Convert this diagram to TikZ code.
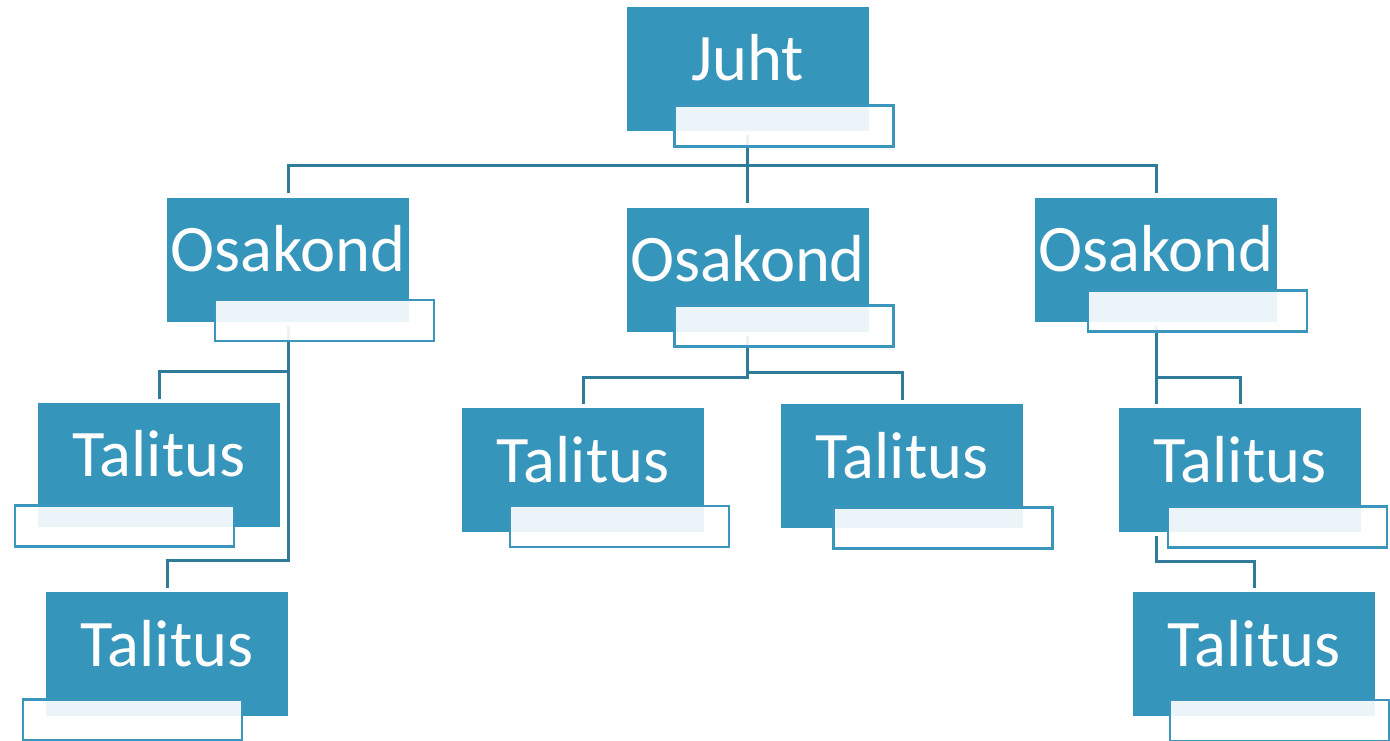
\documentclass[tikz,border=0pt]{standalone}
\usepackage{fontspec}
\setmainfont{Carlito}
\usetikzlibrary{calc}
\pgfdeclarelayer{bg}
\pgfsetlayers{bg,main}
\definecolor{boxblue}{RGB}{54,149,187}
\definecolor{connblue}{RGB}{46,123,154}
\definecolor{edgeblue}{RGB}{58,150,188}
\tikzset{
  bluebox/.style={rectangle, fill=boxblue, draw=none, inner sep=0pt, outer sep=0pt,
    minimum width=242pt, minimum height=124pt},
  whitebox/.style={rectangle, fill=white, fill opacity=0.9, draw=edgeblue, draw opacity=1,
    line width=2.5pt, inner sep=0pt, outer sep=0pt, minimum width=219pt, minimum height=41pt},
  boxtext/.style={anchor=base, text=white, inner sep=0pt, font=\fontsize{66.5}{66.5}\selectfont},
  conn/.style={draw=connblue, line width=3pt}
}
\begin{document}
\begin{tikzpicture}[x=1pt,y=-1pt]
\useasboundingbox (0,0) rectangle (1390,741);
% blue boxes
\node[bluebox] (j)  at (747.5,69) {};
\node[bluebox] (o1) at (288,259.5) {};
\node[bluebox] (o2) at (747.5,269.5) {};
\node[bluebox] (o3) at (1156,259.5) {};
\node[bluebox] (t1) at (159,464.5) {};
\node[bluebox] (t2) at (167,654) {};
\node[bluebox] (t3) at (583,470) {};
\node[bluebox] (t4) at (902,466) {};
\node[bluebox] (t5) at (1240,470) {};
\node[bluebox] (t6) at (1254,654) {};
% labels
\node[boxtext] (jl)  at (747.5,81) {Juht};
\node[boxtext] (o1l) at (288,271.5) {Osakond};
\node[boxtext] (o2l) at (747.5,281.5) {Osakond};
\node[boxtext] (o3l) at (1156,271.5) {Osakond};
\node[boxtext] (t1l) at (159,476.5) {Talitus};
\node[boxtext] (t2l) at (167,666) {Talitus};
\node[boxtext] (t3l) at (583,482) {Talitus};
\node[boxtext] (t4l) at (902,478) {Talitus};
\node[boxtext] (t5l) at (1240,482) {Talitus};
\node[boxtext] (t6l) at (1254,666) {Talitus};
% white boxes
\node[whitebox] (jw)  at (784,126) {};
\node[whitebox] (o1w) at (324.5,320.5) {};
\node[whitebox] (o2w) at (784,326) {};
\node[whitebox] (o3w) at (1197.5,311) {};
\node[whitebox] (t1w) at (124.5,526) {};
\node[whitebox] (t2w) at (132.5,720) {};
\node[whitebox] (t3w) at (619.5,526.5) {};
\node[whitebox] (t4w) at (943,528) {};
\node[whitebox] (t5w) at (1277.5,527) {};
\node[whitebox] (t6w) at (1279.5,720.5) {};
% connectors
\begin{pgfonlayer}{bg}
\draw[conn] ($(j.south)+(0,4)$) -- ($(o2.north)+(0,-5)$);
\draw[conn] ($(o1.north)+(0,-5)$) |- ($(j.south)+(0,35)$) -| ($(o3.north)+(0,-5)$);
% left branch
\draw[conn] ($(o1.south)+(0,4)$) |- ($(t1.north)+(0,-31)$) -- ($(t1.north)+(0,-4)$);
\draw[conn] ($(o1.south)+(0,4)$) |- ($(t2.north)+(0,-32)$) -- ($(t2.north)+(0,-4)$);
% middle branch
\draw[conn] ($(o2.south)+(0,4)$) |- ($(t3.north)+(0,-31)$) -- ($(t3.north)+(0,-4)$);
\draw[conn] ($(o2.south)+(0,4)$) |- ($(t4.north)+(0,-32)$) -- ($(t4.north)+(0,-4)$);
% right branch
\draw[conn] ($(o3.south)+(0,4)$) -- ($(o3.south |- t5.north)+(0,-4)$);
\draw[conn] ($(o3.south)+(0,4)$) |- ($(t5.north)+(0,-31)$) -- ($(t5.north)+(0,-4)$);
\draw[conn] ($(o3.south |- t5.south)+(0,4)$) |- ($(t6.north)+(0,-31)$) -- ($(t6.north)+(0,-4)$);
\end{pgfonlayer}
\end{tikzpicture}
\end{document}
